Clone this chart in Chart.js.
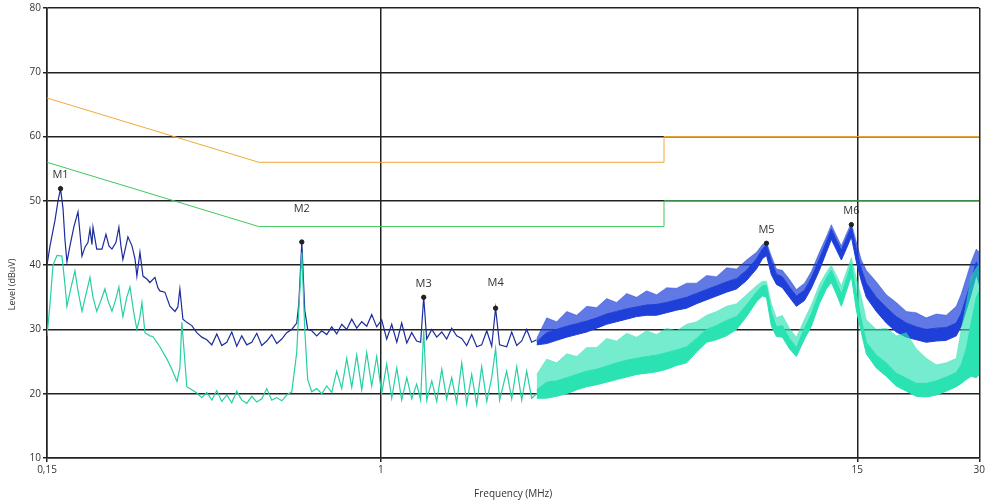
<!DOCTYPE html>
<html>
<head>
<meta charset="utf-8">
<script src="https://cdn.jsdelivr.net/npm/chart.js@4.4.1/dist/chart.umd.min.js"></script>
<style>
    html, body { margin: 0; padding: 0; background: #fff; }
    #wrap { width: 987px; height: 504px; }
</style>
</head>
<body>
<div id="wrap"><canvas id="emi" width="987" height="504"></canvas></div>
<script>
// Conducted emission scan, 0.15 - 30 MHz

// Peak trace (blue) - spiky line part, 0.15 .. 2.4 MHz
const peakLineFreq = [
    0.15, 0.1526, 0.157, 0.1597, 0.162, 0.1643, 0.1661, 0.168, 0.1709, 0.1748,
    0.1789, 0.1809, 0.183, 0.1861, 0.1893, 0.1915, 0.1937, 0.1948, 0.199, 0.205,
    0.2097, 0.2133, 0.217, 0.2219, 0.2257, 0.2283, 0.2309, 0.2349, 0.2376, 0.2431,
    0.2473, 0.25, 0.2544, 0.2588, 0.265, 0.2692, 0.277, 0.2817, 0.2849, 0.2931,
    0.3016, 0.3104, 0.3156, 0.3192, 0.3247, 0.332, 0.3416, 0.3514, 0.3615, 0.372,
    0.3827, 0.3937, 0.405, 0.4167, 0.4287, 0.441, 0.4537, 0.4668, 0.4803, 0.4941,
    0.5083, 0.523, 0.538, 0.5535, 0.5695, 0.5859, 0.6028, 0.6201,
    0.6275, 0.6383, 0.649, 0.660,
    0.6753, 0.6948, 0.7148, 0.7354, 0.7566, 0.7784, 0.8008, 0.8239, 0.8476, 0.8721,
    0.8972, 0.923, 0.9496, 0.977, 1.005,
    1.034, 1.064, 1.095, 1.126, 1.159, 1.192, 1.226,
    1.254, 1.276, 1.298,
    1.336, 1.374, 1.414, 1.454, 1.496, 1.539, 1.584, 1.629, 1.676, 1.725,
    1.774, 1.826, 1.878,
    1.92, 1.964,
    2.045, 2.104, 2.165, 2.227, 2.291, 2.357, 2.425
];
const peakLine = [
    40.0, 43.0, 47.0, 50.0, 51.9, 48.8, 44.0, 40.5, 43.0, 46.0,
    48.3, 45.0, 41.4, 42.8, 43.5, 45.6, 43.2, 45.9, 42.5, 42.5,
    44.8, 43.0, 42.5, 43.5, 45.9, 43.0, 40.9, 43.0, 44.4, 43.0,
    41.0, 38.3, 42.0, 38.3, 37.8, 37.3, 38.1, 36.5, 36.0, 35.8,
    33.6, 32.8, 33.5, 36.3, 31.6, 31.1, 30.6, 29.5, 28.8, 28.4,
    27.6, 29.3, 27.5, 28.0, 29.6, 27.4, 29.0, 27.6, 28.0, 29.4,
    27.5, 28.2, 29.2, 27.8, 28.5, 29.5, 30.0, 31.0,
    34.0, 43.6, 33.0, 30.0,
    29.8, 29.0, 29.8, 29.2, 30.4, 29.3, 30.8, 30.0, 31.6, 30.2,
    31.2, 30.5, 32.3, 30.4, 31.5,
    28.5, 30.8, 28.0, 31.0, 27.9, 29.5, 28.2,
    28.0, 35.0, 28.5,
    30.0, 28.8, 29.6, 28.5, 30.2, 29.0, 28.6, 27.5, 29.2, 27.3,
    27.6, 29.8, 27.4,
    33.3, 27.6,
    27.3, 29.6, 27.5, 28.2, 30.0, 28.0, 28.4
];

// Average trace (teal) - spiky line part
const avgLineFreq = [
    0.15, 0.1526, 0.1552, 0.1588, 0.1633, 0.1661, 0.168, 0.1719, 0.1758, 0.1789,
    0.183, 0.1872, 0.1915, 0.1948, 0.199, 0.2038, 0.2085, 0.2121, 0.217, 0.2219,
    0.2257, 0.2283, 0.2309, 0.236, 0.2404, 0.2458, 0.25, 0.2544, 0.2573, 0.2617,
    0.2692, 0.2738, 0.2849, 0.297, 0.305, 0.314, 0.3192, 0.3228, 0.3266, 0.332,
    0.3416, 0.3514, 0.3615, 0.372, 0.3827, 0.3937, 0.405, 0.4167, 0.4287, 0.441,
    0.4537, 0.4668, 0.4803, 0.4941, 0.5083, 0.523, 0.538, 0.5535, 0.5695, 0.5859,
    0.6028,
    0.6201, 0.6275, 0.6383, 0.649, 0.660,
    0.6753, 0.6948, 0.7148, 0.7354, 0.7566, 0.7784, 0.8008, 0.8239, 0.8476, 0.8721,
    0.8972, 0.923, 0.9496, 0.977, 1.005, 1.034, 1.064, 1.095, 1.126, 1.159,
    1.192, 1.226,
    1.254, 1.276, 1.298,
    1.336, 1.374, 1.414, 1.454, 1.496, 1.539, 1.584, 1.629, 1.676, 1.725,
    1.774, 1.826, 1.878,
    1.92, 1.964,
    2.045, 2.104, 2.165, 2.227, 2.291, 2.357, 2.425
];
const avgLine = [
    29.0, 34.0, 40.0, 41.5, 41.4, 37.0, 33.6, 36.5, 39.1, 36.0,
    32.8, 35.5, 38.1, 35.0, 32.8, 34.5, 36.3, 34.5, 32.8, 34.8,
    36.6, 34.0, 32.0, 35.0, 36.6, 32.5, 30.0, 32.0, 34.2, 29.5,
    29.0, 28.9, 27.3, 25.3, 23.8, 21.9, 24.0, 31.1, 27.0, 21.1,
    20.6, 20.1, 19.4, 20.2, 19.0, 20.5, 18.8, 19.8, 18.6, 20.4,
    19.0, 18.5, 19.6, 18.7, 19.2, 20.8, 19.0, 19.4, 18.9, 19.8,
    20.3,
    26.4, 33.0, 42.0, 30.0, 22.2,
    20.3, 20.8, 20.0, 21.2, 20.2, 23.5, 20.8, 25.5, 21.0, 26.0,
    20.6, 26.4, 21.2, 25.8, 20.0, 24.6, 19.3, 24.0, 19.0, 22.5,
    19.2, 21.5,
    19.0, 30.0, 19.0,
    22.0, 18.8, 23.8, 19.2, 22.5, 18.6, 24.8, 18.4, 23.0, 18.3,
    24.2, 18.8, 22.5,
    27.0, 19.0,
    23.5, 19.2, 24.2, 19.0, 23.5, 19.3, 20.0
];

// Dense part of both traces, 2.4 .. 30 MHz:
// spike tips, top of the solid body, bottom of the solid body
const bandFreq = [
    2.425, 2.567, 2.717, 2.876, 3.044, 3.222, 3.41, 3.609, 3.82, 4.043,
    4.279, 4.529, 4.794, 5.074, 5.37, 5.684, 6.016, 6.368, 6.74, 7.134,
    7.55, 7.99, 8.457, 8.746, 8.951, 9.206, 9.474, 9.797, 10.2, 10.61,
    11.11, 11.55, 12.09, 12.58, 12.94, 13.32, 13.7, 14.1, 14.5, 14.92,
    15.35, 15.79, 16.71, 17.69, 18.72, 19.82, 20.97, 22.2, 23.5, 24.87,
    26.32, 27.07, 27.86, 28.65, 29.49, 30
];
const peakSpike = [
    28.6, 31.8, 31.2, 32.8, 32.2, 33.6, 33.4, 34.8, 34.2, 35.6,
    35.0, 36.0, 35.4, 36.5, 36.4, 37.2, 37.2, 38.4, 38.2, 39.6,
    39.4, 40.8, 42.0, 43.2, 43.6, 41.4, 39.4, 39.2, 37.8, 36.2,
    37.2, 39.0, 42.0, 44.4, 46.3, 44.6, 43.0, 44.9, 46.6, 43.6,
    40.8, 39.2, 37.4, 35.4, 34.2, 32.8, 32.6, 31.8, 32.4, 32.2,
    33.6, 35.5, 38.0, 40.5, 42.5, 42.0
];
const peakHi = [
    28.1, 29.5, 30.0, 30.5, 30.9, 31.3, 31.8, 32.4, 32.8, 33.2,
    33.5, 33.8, 33.9, 34.2, 34.6, 35.0, 35.6, 36.2, 36.8, 37.4,
    37.9, 39.2, 41.0, 42.5, 43.2, 40.6, 38.6, 38.2, 36.6, 35.2,
    36.1, 38.0, 41.0, 43.6, 45.6, 43.9, 42.3, 44.2, 46.0, 42.4,
    39.4, 37.2, 35.0, 33.4, 32.0, 31.0, 30.4, 30.0, 30.2, 30.3,
    31.0, 32.5, 35.0, 37.5, 40.5, 39.5
];
const peakLo = [
    27.6, 27.8, 28.3, 28.8, 29.2, 29.6, 30.2, 30.8, 31.2, 31.6,
    32.0, 32.2, 32.2, 32.6, 33.0, 33.3, 34.0, 34.6, 35.2, 35.8,
    36.3, 37.6, 39.4, 41.0, 41.5, 38.5, 37.0, 36.5, 35.0, 33.6,
    34.5, 36.4, 39.2, 42.0, 44.0, 42.4, 40.8, 42.6, 44.4, 40.5,
    37.5, 35.0, 32.8, 31.0, 29.6, 28.8, 28.4, 28.0, 28.2, 28.3,
    29.0, 30.5, 33.0, 35.5, 38.5, 37.0
];
const avgSpike = [
    23.0, 25.4, 24.8, 26.2, 25.8, 27.2, 27.2, 28.6, 28.2, 29.4,
    28.8, 29.8, 29.2, 30.2, 29.8, 30.8, 31.2, 32.2, 32.8, 33.6,
    34.0, 35.4, 36.8, 37.5, 37.5, 34.0, 31.8, 32.2, 30.2, 28.8,
    31.6, 33.8, 37.0, 38.9, 40.0, 38.4, 36.8, 39.0, 41.2, 38.0,
    35.0, 31.5, 30.0, 30.2, 29.0, 29.5, 27.0, 25.5, 24.5, 24.8,
    25.5, 30.0, 34.0, 38.2, 39.6, 40.2
];
const avgHi = [
    20.6, 21.8, 22.0, 22.5, 23.0, 23.5, 23.8, 24.3, 24.8, 25.2,
    25.5, 25.8, 26.0, 26.4, 26.8, 27.3, 28.6, 30.0, 30.6, 31.4,
    32.0, 33.8, 35.8, 36.8, 36.8, 32.6, 30.4, 30.6, 28.6, 27.2,
    30.2, 32.4, 35.8, 38.0, 39.2, 37.4, 35.5, 37.8, 40.2, 35.5,
    31.5, 28.0, 26.0, 24.8, 23.2, 22.4, 21.6, 21.6, 22.0, 22.6,
    23.3, 24.5, 27.0, 31.0, 35.0, 36.0
];
const avgLo = [
    19.3, 19.3, 19.6, 20.0, 20.6, 21.1, 21.4, 21.8, 22.2, 22.6,
    23.0, 23.2, 23.4, 23.8, 24.4, 24.8, 26.5, 28.0, 28.4, 29.0,
    30.0, 32.0, 34.3, 35.2, 35.0, 30.5, 28.9, 28.8, 27.0, 25.8,
    28.5, 30.5, 34.0, 36.3, 37.3, 35.5, 33.6, 36.0, 38.3, 33.0,
    29.5, 26.2, 24.0, 22.7, 21.2, 20.4, 19.6, 19.5, 19.8, 20.4,
    21.1, 21.6, 22.2, 22.7, 22.5, 23.0
];

// Limit lines (QP orange, AV green)
const limitFreq = [0.15, 0.5, 5, 5, 30];
const qpLimit = [66, 56, 56, 60, 60];
const avLimit = [56, 46, 46, 50, 50];

// Markers
const markerNames = ['M1', 'M2', 'M3', 'M4', 'M5', 'M6'];
const markerFreq = [0.162, 0.6383, 1.276, 1.92, 8.951, 14.5];
const markerLevel = [51.9, 43.6, 35.0, 33.3, 43.4, 46.3];

// Axes
const xTicks = [0.15, 1, 15, 30];
const xTickLabels = ['0,15', '1', '15', '30'];
const yTicks = [10, 20, 30, 40, 50, 60, 70, 80];
const yTitle = 'Level (dBuV)';

const BLUE = '#1c2c9c';
const BLUE_FILL = '#1e40d8';
const BLUE_HAIR = 'rgba(30, 64, 216, 0.7)';
const TEAL = '#26cfa4';
const TEAL_FILL = '#2ae2b2';
const TEAL_HAIR = 'rgba(42, 226, 178, 0.65)';
const MARKER_SET = 10;

function pts(xs, ys) {
    return xs.map((x, i) => ({ x: x, y: ys[i] }));
}

function trace(data, color, extra) {
    return Object.assign({
        data: data,
        borderColor: color,
        borderWidth: 1,
        pointRadius: 0,
        tension: 0,
        fill: false
    }, extra || {});
}

// M1..M6 captions above the marker dots
const markerLabels = {
    id: 'markerLabels',
    afterDatasetsDraw(chart) {
        const meta = chart.getDatasetMeta(MARKER_SET);
        const ctx = chart.ctx;
        const lift = { M2: 28, M4: 20 };
        ctx.save();
        ctx.font = '11px "Open Sans", sans-serif';
        ctx.fillStyle = '#333';
        ctx.textAlign = 'center';
        ctx.textBaseline = 'bottom';
        meta.data.forEach((p, i) => {
            const name = markerNames[i];
            ctx.fillText(name, p.x, p.y - (lift[name] || 8));
        });
        ctx.restore();
    }
};

// y title sits below the middle of the axis in the original
const yTitlePlugin = {
    id: 'yTitlePlugin',
    afterDraw(chart) {
        const ctx = chart.ctx;
        const y = chart.scales.y.getPixelForValue(37);
        ctx.save();
        ctx.translate(12, y);
        ctx.rotate(-Math.PI / 2);
        ctx.font = '9px "Open Sans", sans-serif';
        ctx.fillStyle = '#333';
        ctx.textAlign = 'center';
        ctx.textBaseline = 'middle';
        ctx.fillText(yTitle, 0, 0);
        ctx.restore();
    }
};

const ctx = document.getElementById('emi').getContext('2d');
new Chart(ctx, {
    type: 'line',
    data: {
        datasets: [
            trace(pts(bandFreq, peakSpike), BLUE_HAIR, { fill: '+1', backgroundColor: BLUE_HAIR, borderWidth: 0.6, order: 4 }),
            trace(pts(bandFreq, peakHi), BLUE_FILL, { fill: '+1', backgroundColor: BLUE_FILL, order: 4 }),
            trace(pts(bandFreq, peakLo), BLUE_FILL, { order: 4 }),
            trace(pts(peakLineFreq, peakLine), BLUE, { borderWidth: 1.2, order: 4 }),
            trace(pts(bandFreq, avgSpike), TEAL_HAIR, { fill: '+1', backgroundColor: TEAL_HAIR, borderWidth: 0.6, order: 3 }),
            trace(pts(bandFreq, avgHi), TEAL_FILL, { fill: '+1', backgroundColor: TEAL_FILL, order: 3 }),
            trace(pts(bandFreq, avgLo), TEAL_FILL, { order: 3 }),
            trace(pts(avgLineFreq, avgLine), TEAL, { borderWidth: 1.2, order: 3 }),
            trace(pts(limitFreq, qpLimit), '#f2a93a', { order: 2 }),
            trace(pts(limitFreq, avLimit), '#3fc860', { order: 2 }),
            {
                data: pts(markerFreq, markerLevel),
                showLine: false,
                pointRadius: 2.2,
                pointBorderWidth: 1,
                pointBackgroundColor: '#222',
                pointBorderColor: '#222',
                order: 0
            }
        ]
    },
    options: {
        responsive: false,
        animation: false,
        parsing: false,
        normalized: true,
        layout: { padding: { top: 4, right: 1, left: 0, bottom: 0 } },
        plugins: {
            legend: { display: false },
            tooltip: { enabled: false }
        },
        scales: {
            x: {
                type: 'logarithmic',
                min: 0.15,
                max: 30,
                afterBuildTicks: s => { s.ticks = xTicks.map(v => ({ value: v })); },
                afterFit: s => { s.height = 46; },
                ticks: {
                    autoSkip: false,
                    maxRotation: 0,
                    color: '#333',
                    font: { family: 'Open Sans', size: 10 },
                    padding: 2,
                    callback: (v) => xTickLabels[xTicks.indexOf(v)]
                },
                grid: { color: '#222', lineWidth: 1.5, tickLength: 4 },
                border: { color: '#222', width: 1.5 },
                title: {
                    display: true,
                    text: 'Frequency (MHz)',
                    color: '#333',
                    font: { family: 'Open Sans', size: 10 },
                    padding: { top: 4 }
                }
            },
            y: {
                min: 10,
                max: 80,
                afterBuildTicks: s => { s.ticks = yTicks.map(v => ({ value: v })); },
                afterFit: s => { s.width = 47; },
                ticks: {
                    color: '#333',
                    font: { family: 'Open Sans', size: 10 },
                    padding: 2
                },
                grid: { color: '#222', lineWidth: 1.5, tickLength: 4 },
                border: { color: '#222', width: 1.5 }
            }
        }
    },
    plugins: [markerLabels, yTitlePlugin]
});
</script>
</body>
</html>
